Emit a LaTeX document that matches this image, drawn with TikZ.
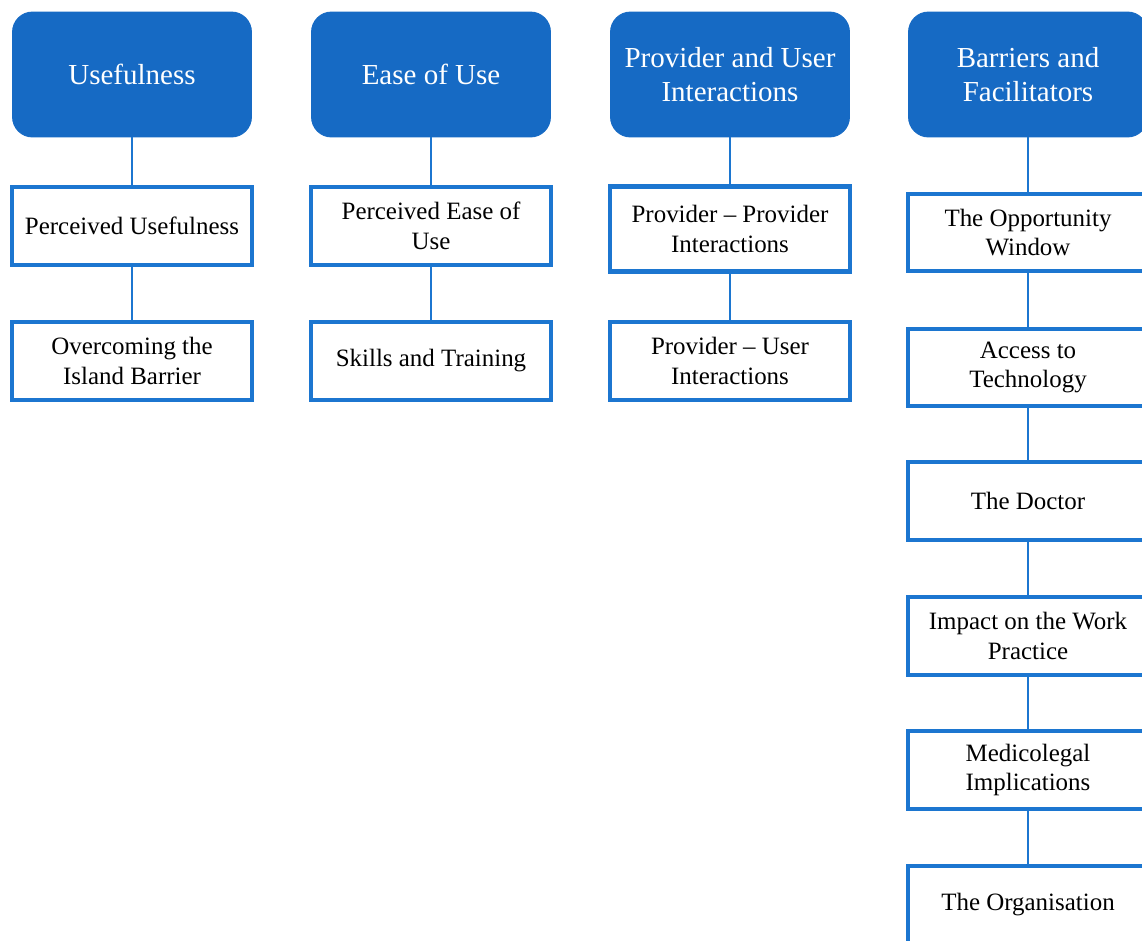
\documentclass[tikz,border=0pt]{standalone}
\usepackage{fontspec}
\setmainfont{Liberation Serif}
\definecolor{themeblue}{RGB}{22,106,196}
\definecolor{boxblue}{RGB}{28,118,208}

\tikzset{
  theme/.style={rounded corners=0.4cm, fill=themeblue, draw=themeblue, line width=0.5pt,
    minimum width=4.78cm, minimum height=2.5cm, align=center, text=white,
    font=\rmfamily\fontsize{16.5}{19.5}\selectfont},
  subtheme/.style={draw=boxblue, line width=2.3pt, fill=white,
    minimum width=4.8cm, minimum height=1.55cm, align=center,
    font=\rmfamily\fontsize{14.2}{17}\selectfont},
  link/.style={draw=boxblue, line width=1.1pt}
}

\begin{document}
\begin{tikzpicture}[x=0.02cm,y=-0.02cm]
            \path[use as bounding box, clip] (0,0) rectangle (1142,940);
            \fill[white] (0,0) rectangle (1142,940);
            % headers
            \node [theme] (use) at (132,74.5) {Usefulness};
            \node [theme] (ease) at (431,74.5) {Ease of Use};
            \node [theme] (inter) at (730,74.5) {Provider and User\\Interactions};
            \node [theme] (barr) at (1028,74.5) {Barriers and\\Facilitators};
            % usefulness
            \node [subtheme] (pu) at (132,226) {Perceived Usefulness};
            \node [subtheme] (island) at (132,361) {Overcoming the\\Island Barrier};
            % ease of use
            \node [subtheme] (peou) at (431,226) {Perceived Ease of\\Use};
            \node [subtheme] (skills) at (431,361) {Skills and Training};
            % interactions
            \node [subtheme, minimum height=1.7cm] (pp) at (730,229) {Provider -- Provider\\Interactions};
            \node [subtheme] (puser) at (730,361) {Provider -- User\\Interactions};
            % barriers and facilitators
            \node [subtheme] (window) at (1028,232.5) {The Opportunity\\Window};
            \node [subtheme] (access) at (1028,367.5) {Access to\\Technology};
            \node [subtheme] (doctor) at (1028,501) {The Doctor};
            \node [subtheme] (work) at (1028,636) {Impact on the Work\\Practice};
            \node [subtheme] (legal) at (1028,770) {Medicolegal\\Implications};
            \node [subtheme] (org) at (1028,905) {The Organisation};
            % links
            \draw [link] (use) -- (pu);
            \draw [link] (pu) -- (island);
            \draw [link] (ease) -- (peou);
            \draw [link] (peou) -- (skills);
            \draw [link] (inter) -- (pp);
            \draw [link] (pp) -- (puser);
            \draw [link] (barr) -- (window);
            \draw [link] (window) -- (access);
            \draw [link] (access) -- (doctor);
            \draw [link] (doctor) -- (work);
            \draw [link] (work) -- (legal);
            \draw [link] (legal) -- (org);
        \end{tikzpicture}
\end{document}
